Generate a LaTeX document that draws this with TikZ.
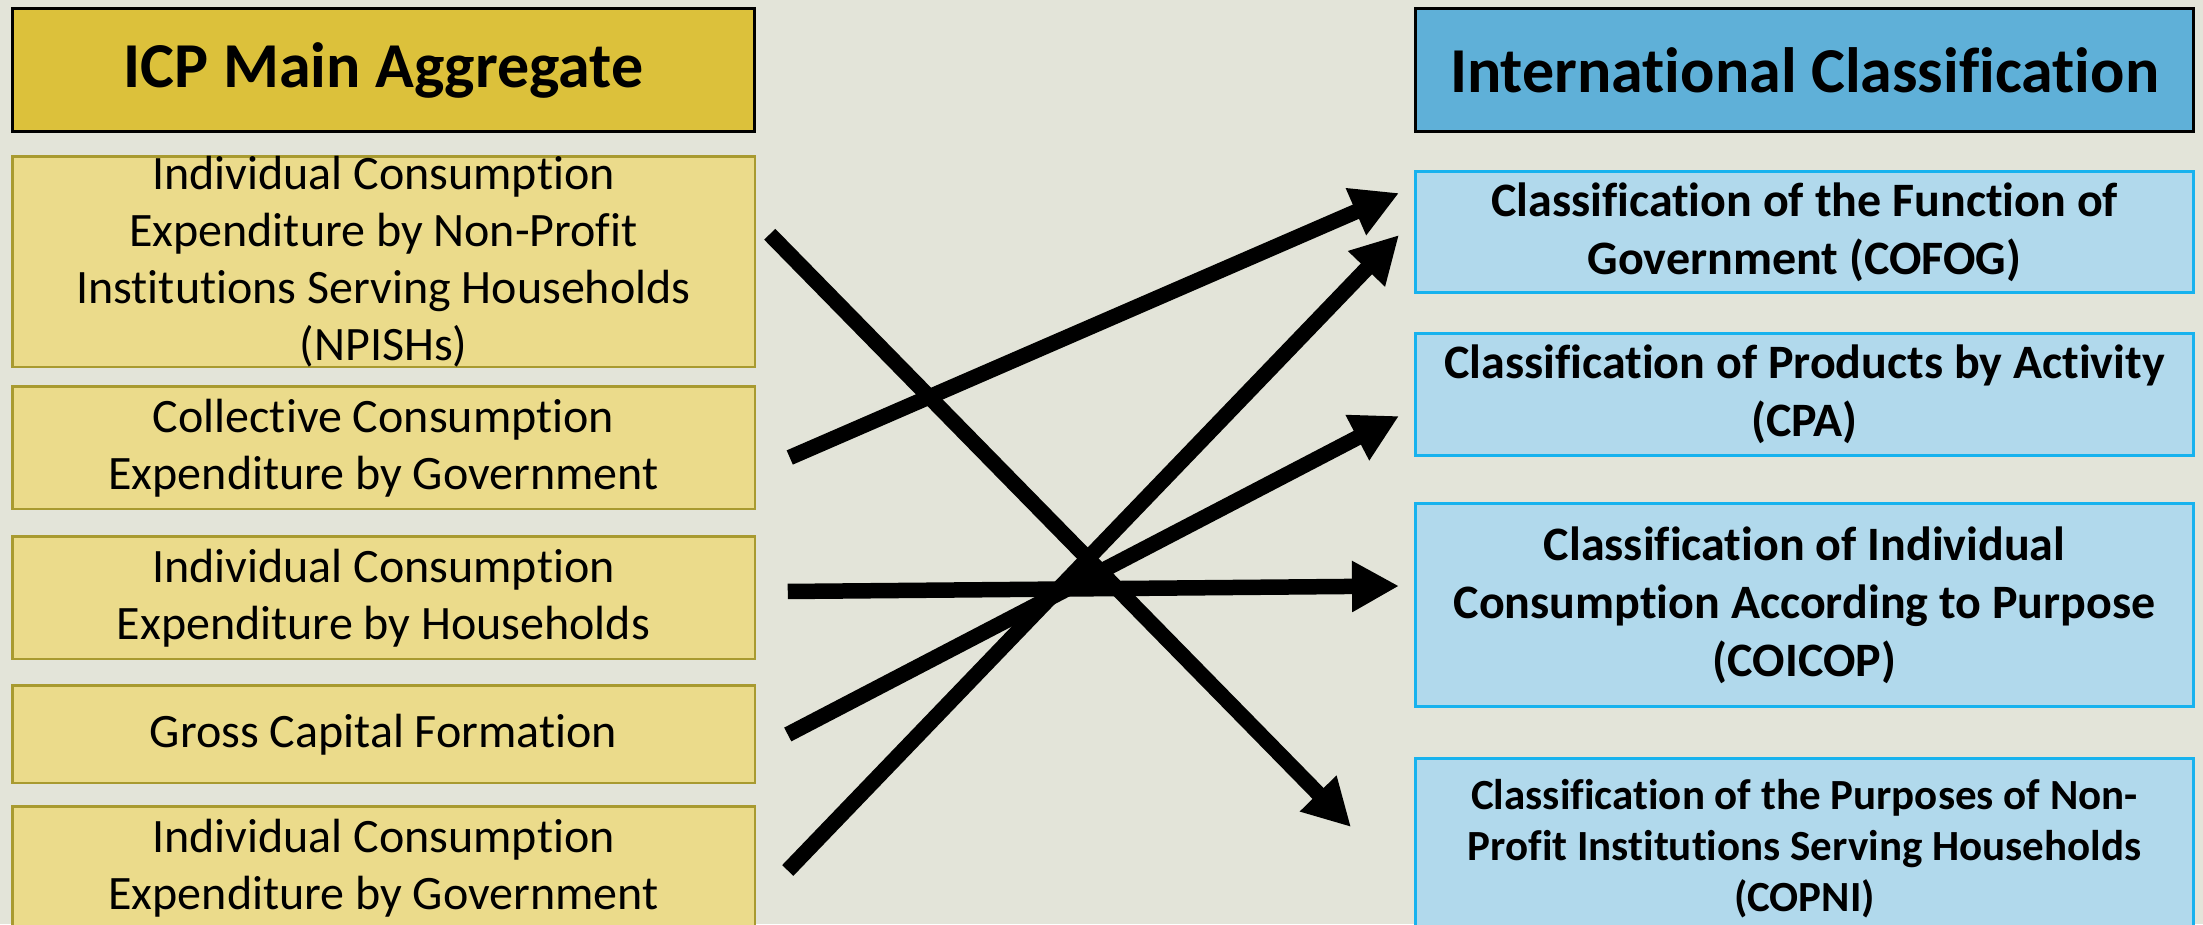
\documentclass[tikz,border=0pt]{standalone}
\usepackage{fontspec}
\setmainfont{Carlito}[Ligatures=NoCommon]
\usepackage{xcolor}
\usetikzlibrary{positioning}
\usetikzlibrary{arrows.meta}

\definecolor{bgcol}{HTML}{E3E4D9}
\definecolor{goldhead}{HTML}{DCC13B}
\definecolor{goldbox}{HTML}{EBDB8B}
\definecolor{goldline}{HTML}{A89A30}
\definecolor{bluehead}{HTML}{5FB0D8}
\definecolor{bluebox}{HTML}{B1D9EC}
\definecolor{blueline}{HTML}{17B2EE}

\tikzset{
  head/.style={draw=black, line width=3pt, inner sep=0pt, outer sep=0pt, minimum height=123pt, font=\fontsize{64}{76}\selectfont\bfseries},
  agg/.style={draw=goldline, fill=goldbox, line width=2.5pt, inner sep=0pt, outer sep=0pt, minimum width=742.5pt, align=center, font=\fontsize{48}{57}\selectfont},
  cls/.style={draw=blueline, fill=bluebox, line width=3pt, inner sep=0pt, outer sep=0pt, minimum width=778pt, align=center, font=\fontsize{48}{58}\selectfont\bfseries},
  link/.style={line width=15.5pt, -{Triangle[length=47pt,width=48pt]}}
}

\begin{document}
\begin{tikzpicture}[x=1pt,y=1pt]
		\useasboundingbox[fill=bgcol] (0,0) rectangle (2203,-924);

		\node[head, fill=goldhead, minimum width=742pt] (aggHead) at (383.5,-70) {ICP Main Aggregate};
		\node[agg, minimum height=208.5pt] (npish) [below = 24.75pt of aggHead] {Individual Consumption\\Expenditure by Non-Profit\\Institutions Serving Households\\(NPISHs)};
		\node[agg, minimum height=122.5pt] (collGov) [below = 19.5pt of npish] {Collective Consumption\\Expenditure by Government};
		\node[agg, minimum height=122.5pt] (indHh) [below = 27.5pt of collGov] {Individual Consumption\\Expenditure by Households};
		\node[agg, minimum height=97.5pt] (gcf) [below = 26.5pt of indHh] {Gross Capital Formation};
		\node[agg, minimum height=122.5pt] (indGov) [below = 23.5pt of gcf] {Individual Consumption\\Expenditure by Government};

		\node[head, fill=bluehead, minimum width=778pt] (clsHead) at (1804.5,-70) {International Classification};
		\node[cls, minimum height=121pt] (cofog) [below = 40pt of clsHead] {Classification of the Function of\\Government (COFOG)};
		\node[cls, minimum height=122pt] (cpa) [below = 41pt of cofog] {Classification of Products by Activity\\(CPA)};
		\node[cls, minimum height=203pt] (coicop) [below = 48pt of cpa] {Classification of Individual\\Consumption According to Purpose\\(COICOP)};
		\node[cls, minimum height=181pt, font=\fontsize{43}{51}\selectfont\bfseries] (copni) [below = 52pt of coicop] {Classification of the Purposes of Non-\\Profit Institutions Serving Households\\(COPNI)};

		\draw[link] ([xshift=15pt,yshift=27.5pt]npish.east) -- ([xshift=-64.5pt,yshift=22pt]copni.west);
		\draw[link] ([xshift=35pt,yshift=-9.5pt]collGov.east) -- ([xshift=-16.5pt,yshift=39pt]cofog.west);
		\draw[link] ([xshift=33pt,yshift=6.5pt]indHh.east) -- ([xshift=-16.5pt,yshift=19pt]coicop.west);
		\draw[link] ([xshift=33pt]gcf.east) -- ([xshift=-16.5pt,yshift=-21.5pt]cpa.west);
		\draw[link] ([xshift=33pt,yshift=-2.5pt]indGov.east) -- ([xshift=-16.5pt,yshift=-3pt]cofog.west);
	\end{tikzpicture}
\end{document}
